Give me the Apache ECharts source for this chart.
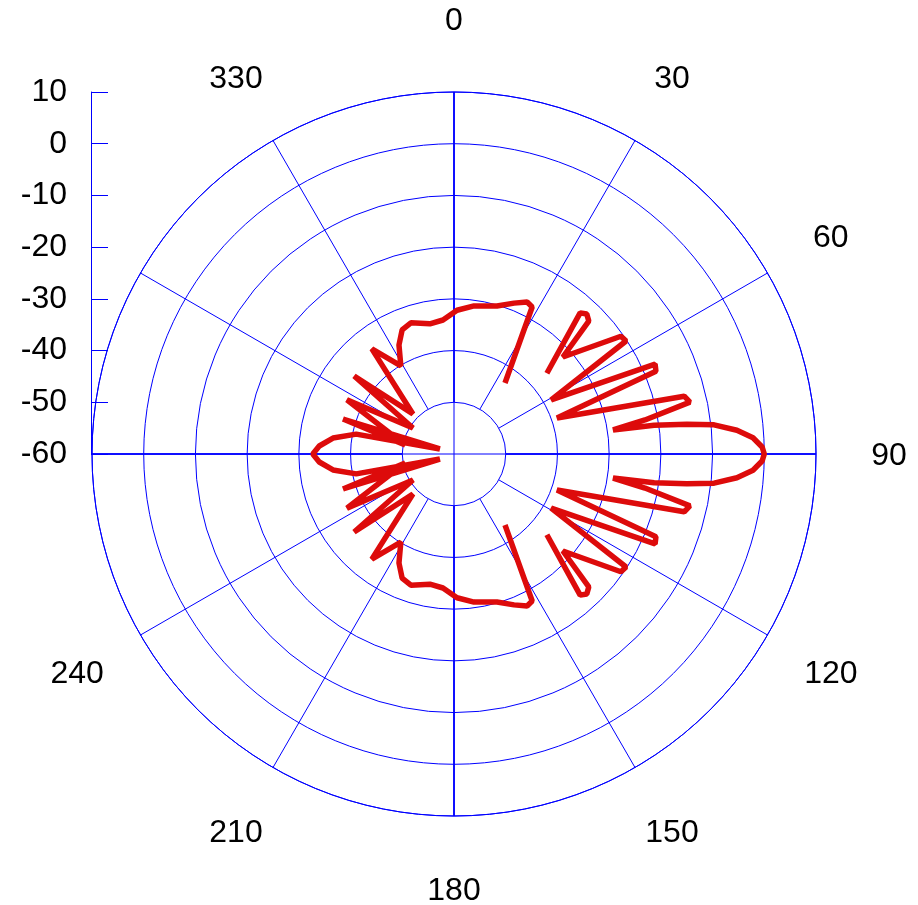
<!DOCTYPE html>
<html>
<head>
<meta charset="utf-8">
<script src="https://cdn.jsdelivr.net/npm/echarts/dist/echarts.min.js"></script>
<style>
html,body{margin:0;padding:0;background:#ffffff;}
#chart{width:918px;height:905px;}
</style>
</head>
<body>
<div id="chart"></div>
<script>
// Radial scale (dB) and angle labels shown
const radialMin = -60;
const radialMax = 10;
const radialStep = 10;
const angleLabels = [0, 30, 60, 90, 120, 150, 180, 210, 240, 330];

// Pattern trace 1: back/front lobes (angle in degrees, level in dB), in drawing order
const backAngles = [144.3, 152.0, 154.3, 158.3, 163.8, 172.3, 178.8, 184.7, 190.5, 198.2,
  202.7, 206.8, 211.1, 218.0, 225.7, 232.0, 237.6, 243.2, 259.6, 252.5,
  250.3, 258.5, 262.5, 266.6, 270.0, 273.4, 277.5, 281.5, 289.7, 287.5,
  280.4, 296.8, 302.4, 308.0, 314.3, 322.0, 328.9, 333.2, 337.3, 341.8,
  349.5, 355.3, 1.2, 7.7, 16.2, 21.7, 25.7, 28.0, 35.7];
const backDb = [-43.1, -27.8, -27.4, -28.6, -30.2, -31.1, -32.2, -34.0, -34.4, -33.3,
  -34.0, -36.4, -40.1, -34.2, -48.9, -35.5, -50.6, -36.8, -50.4, -37.5,
  -57.1, -40.7, -36.4, -33.9, -32.7, -33.9, -36.4, -40.7, -57.1, -37.5,
  -50.4, -36.8, -50.6, -35.5, -48.9, -34.2, -40.1, -36.4, -34.0, -33.3,
  -34.4, -34.0, -32.2, -31.1, -30.2, -28.6, -27.4, -27.8, -43.1];

// Pattern trace 2: side lobes and main lobe
const mainAngles = [49.0, 41.8, 43.5, 45.4, 48.3, 54.8, 56.7, 60.9, 65.9, 67.7,
  70.7, 75.9, 77.6, 79.9, 81.4, 81.8, 82.7, 83.6, 85.2, 86.9,
  88.7, 90.0, 91.3, 93.1, 94.8, 96.4, 97.3, 98.2, 98.6, 100.1,
  102.4, 104.1, 109.3, 112.3, 114.1, 119.1, 123.3, 125.2, 131.7, 134.6,
  136.5, 138.2, 131.0];
const mainDb = [-36.2, -23.4, -22.7, -23.4, -31.8, -20.5, -20.2, -38.5, -17.4, -17.8,
  -38.9, -14.1, -13.3, -22.5, -28.9, -20.9, -14.6, -9.4, -5.1, -2.1,
  -0.4, 0.0, -0.4, -2.1, -5.1, -9.4, -14.6, -20.9, -28.9, -22.5,
  -13.3, -14.1, -38.9, -17.8, -17.4, -38.5, -20.2, -20.5, -31.8, -23.4,
  -22.7, -23.4, -36.2];

const BLUE = '#0000ff';
const RED = '#dd0b0b';
const FONT = 'Liberation Sans, Arial, Helvetica, sans-serif';
const FS = 32;

const toPolar = (angles, dbs) => angles.map((a, i) => [dbs[i], a]);

const chart = echarts.init(document.getElementById('chart'), null, {renderer: 'canvas'});

const CX = 454, CY = 454, R = 362, RIN = 52;

const baseAngle = {type: 'value', min: 0, max: 360, startAngle: 90, clockwise: true};

const option = {
  animation: false,
  backgroundColor: '#ffffff',
  polar: [
    {center: [CX, CY], radius: R},
    {center: [CX, CY + 2.5], radius: R},
    {center: [CX, CY], radius: [RIN, R]},
    {center: [CX, CY], radius: [RIN, R]}
  ],
  angleAxis: [
    Object.assign({}, baseAngle, {
      polarIndex: 0, interval: 90,
      axisLine: {show: true, lineStyle: {color: BLUE, width: 1}},
      axisTick: {show: false},
      axisLabel: {show: false},
      splitLine: {show: true, lineStyle: {color: BLUE, width: 1}}
    }),
    Object.assign({}, baseAngle, {
      polarIndex: 1, interval: 30,
      axisLine: {show: false},
      axisTick: {show: false},
      splitLine: {show: false},
      axisLabel: {
        show: true, margin: 72, color: '#000000',
        formatter: v => (v < 360 && angleLabels.indexOf(v) >= 0) ? '{c|' + v + '}' : '',
        rich: {
          c: {width: 2, height: 2, lineHeight: 2, align: 'center', verticalAlign: 'middle',
              fontSize: FS, fontFamily: FONT, color: '#000000'}
        }
      }
    }),
    Object.assign({}, baseAngle, {
      polarIndex: 2, interval: 30,
      axisLine: {show: false},
      axisTick: {show: false},
      axisLabel: {show: false},
      splitLine: {show: true, lineStyle: {color: BLUE, width: 1}}
    }),
    Object.assign({}, baseAngle, {
      polarIndex: 3, interval: 90,
      axisLine: {show: false},
      axisTick: {show: false},
      axisLabel: {show: false},
      splitLine: {show: true, lineStyle: {color: BLUE, width: 2, opacity: 0.75}}
    })
  ],
  radiusAxis: [
    {
      polarIndex: 0, type: 'value', min: radialMin, max: radialMax, interval: radialStep,
      axisLine: {show: false}, axisTick: {show: false}, axisLabel: {show: false},
      splitLine: {show: true, lineStyle: {color: BLUE, width: 1}}
    },
    {polarIndex: 1, type: 'value', min: 0, max: 1, show: false},
    {polarIndex: 2, type: 'value', min: 0, max: 1, show: false},
    {polarIndex: 3, type: 'value', min: 0, max: 1, show: false}
  ],
  grid: {left: 91, top: 92, width: 20, height: 362},
  xAxis: {type: 'value', show: false, min: 0, max: 1},
  yAxis: {
    type: 'value', min: radialMin, max: radialMax, interval: radialStep,
    axisLine: {show: true, onZero: false, lineStyle: {color: BLUE, width: 1}},
    axisTick: {show: true, inside: true, length: 17, lineStyle: {color: BLUE, width: 1}},
    axisLabel: {color: '#000000', fontSize: FS, fontFamily: FONT, margin: 24},
    splitLine: {show: false}
  },
  series: [
    {
      type: 'line', coordinateSystem: 'polar', polarIndex: 0,
      data: toPolar(backAngles, backDb),
      symbol: 'none', smooth: false,
      lineStyle: {color: RED, width: 5.5, join: 'bevel', cap: 'butt'},
      z: 5
    },
    {
      type: 'line', coordinateSystem: 'polar', polarIndex: 0,
      data: toPolar(mainAngles, mainDb),
      symbol: 'none', smooth: false,
      lineStyle: {color: RED, width: 5.5, join: 'bevel', cap: 'butt'},
      z: 5
    }
  ]
};
chart.setOption(option);
</script>
</body>
</html>
